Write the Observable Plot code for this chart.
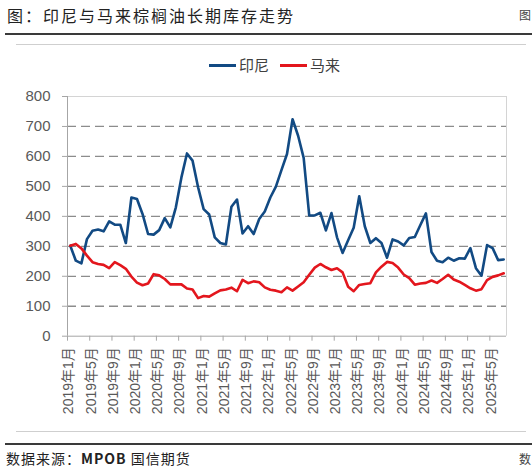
<!DOCTYPE html>
<html><head><meta charset="utf-8">
<script src="https://cdn.jsdelivr.net/npm/d3@7"></script>
<script src="https://cdn.jsdelivr.net/npm/@observablehq/plot@0.6"></script>
<style>
body{margin:0;background:#fff;}
#wrap{position:relative;width:532px;height:473px;overflow:hidden;font-family:"Noto Sans CJK SC",sans-serif;color:#222;}
#title{position:absolute;left:7px;top:3px;font-size:16px;letter-spacing:2px;line-height:24px;white-space:nowrap;}
.hr{position:absolute;}
.dark{left:5px;right:0;height:2px;background:#3a3a3a;}
.light{left:16px;width:510px;height:1px;background:#cfcfcf;}
#legend{position:absolute;top:55px;left:0;width:532px;height:20px;font-size:15px;color:#404040;}
.lg{position:absolute;top:0;line-height:20px;white-space:nowrap;}
.sw{display:inline-block;width:27px;height:3px;vertical-align:middle;margin-right:3px;position:relative;top:-1px;}
#chart{position:absolute;left:0;top:80px;}
#source{position:absolute;left:6px;top:448px;font-size:14px;letter-spacing:1px;line-height:20px;white-space:nowrap;}
.cut{position:absolute;font-size:12px;white-space:nowrap;color:#444;}
</style></head><body>
<div id="wrap">
  <div id="title">图：印尼与马来棕榈油长期库存走势</div>
  <div class="cut" style="left:519px;top:5px;line-height:20px;">图</div>
  <div class="hr dark" style="top:33px"></div>
  <div class="hr light" style="top:44px"></div>
  <div id="legend"></div>
  <div id="chart"></div>
  <div class="hr light" style="top:431px"></div>
  <div class="hr dark" style="top:443px"></div>
  <div id="source">数据来源：<b>MPOB</b> 国信期货</div>
  <div class="cut" style="left:519px;top:449px;line-height:20px;">数</div>
</div>
<script>
// Series names and colours
const seriesNames = ["印尼", "马来"];
const seriesColors = ["#124a83", "#e3161d"];

// Monthly categories: 2019年1月 … 2025年7月 (79 months)
const startYear = 2019;
const monthCount = 79;
const months = Array.from({length: monthCount}, (_, i) => `${startYear + Math.floor(i / 12)}年${(i % 12) + 1}月`);

// 印尼 palm oil stocks (10k t)
const indonesia = [302,252,243,324,352,356,350,383,372,372,
                   311,463,458,408,341,339,354,394,363,430,
                   530,610,586,497,424,406,330,311,306,432,
                   456,343,367,341,391,416,463,499,554,608,
                   724,669,595,403,403,412,353,411,330,278,
                   320,362,467,367,311,327,311,262,323,316,
                   303,328,331,371,410,281,252,247,262,252,
                   260,259,294,227,202,304,294,254,256];

// 马来 palm oil stocks (10k t)
const malaysia = [302,308,293,269,247,241,238,227,247,237,
                  225,199,179,170,176,207,203,191,173,173,
                  173,159,156,127,134,132,143,153,156,162,
                  150,188,177,183,180,163,155,152,147,163,
                  152,166,180,205,229,241,230,221,227,213,
                  165,150,171,174,177,213,232,248,244,229,
                  206,194,172,176,178,186,178,191,205,189,
                  182,171,160,152,157,187,198,203,210];

// Axis tick labels
const yTicks = [0,100,200,300,400,500,600,700,800];
const xTickLabels = ["2019年1月","2019年5月","2019年9月","2020年1月","2020年5月","2020年9月",
                     "2021年1月","2021年5月","2021年9月","2022年1月","2022年5月","2022年9月",
                     "2023年1月","2023年5月","2023年9月","2024年1月","2024年5月","2024年9月",
                     "2025年1月","2025年5月"];

const rows = [];
[indonesia, malaysia].forEach((vals, s) => vals.forEach((v, i) => rows.push({series: seriesNames[s], i, month: months[i], value: v})));
const labelRows = xTickLabels.map(l => ({label: l, i: months.indexOf(l)}));
const tickBounds = labelRows.map(d => d.i - 0.5);

// Legend
const lg = document.getElementById("legend");
[[209, 0], [280, 1]].forEach(([left, s]) => {
  const el = document.createElement("div");
  el.className = "lg";
  el.style.left = left + "px";
  el.innerHTML = `<span class="sw" style="background:${seriesColors[s]}"></span>${seriesNames[s]}`;
  lg.appendChild(el);
});

const chart = Plot.plot({
  width: 532,
  height: 350,
  marginTop: 16,
  marginBottom: 94.3,
  marginLeft: 67,
  marginRight: 26,
  style: {fontFamily: "'Liberation Sans', Arial, 'Noto Sans CJK SC', sans-serif", background: "transparent"},
  x: {type: "linear", domain: [-0.5, monthCount - 0.5], axis: null},
  y: {domain: [0, 800], axis: null},
  color: {domain: seriesNames, range: seriesColors},
  marks: [
    Plot.ruleY(yTicks.filter(t => t > 0 && t < 800), {stroke: "#8c8c8c", strokeWidth: 1.3, strokeDasharray: "9,5"}),
    Plot.ruleY([800], {stroke: "#d4d4d4", strokeWidth: 1}),
    Plot.ruleX([monthCount - 0.5], {stroke: "#d4d4d4", strokeWidth: 1}),
    Plot.ruleX([-0.5], {stroke: "#a6a6a6", strokeWidth: 1}),
    Plot.ruleY([0], {stroke: "#a6a6a6", strokeWidth: 1}),
    Plot.axisY(yTicks, {tickSize: 5, tickPadding: 12, stroke: "#a6a6a6", fill: "#595959", fontSize: 15, label: null}),
    Plot.axisX(tickBounds, {tickSize: 5, stroke: "#a6a6a6", tickFormat: () => "", label: null}),
    Plot.text(labelRows, {x: "i", frameAnchor: "bottom", text: "label", rotate: -90, textAnchor: "end", dy: 11, dx: 3, fontSize: 14, fill: "#595959"}),
    Plot.line(rows, {x: "i", y: "value", z: "series", stroke: "series", strokeWidth: 2.6, strokeLinejoin: "round"})
  ]
});
document.getElementById("chart").appendChild(chart);
</script>
</body></html>
